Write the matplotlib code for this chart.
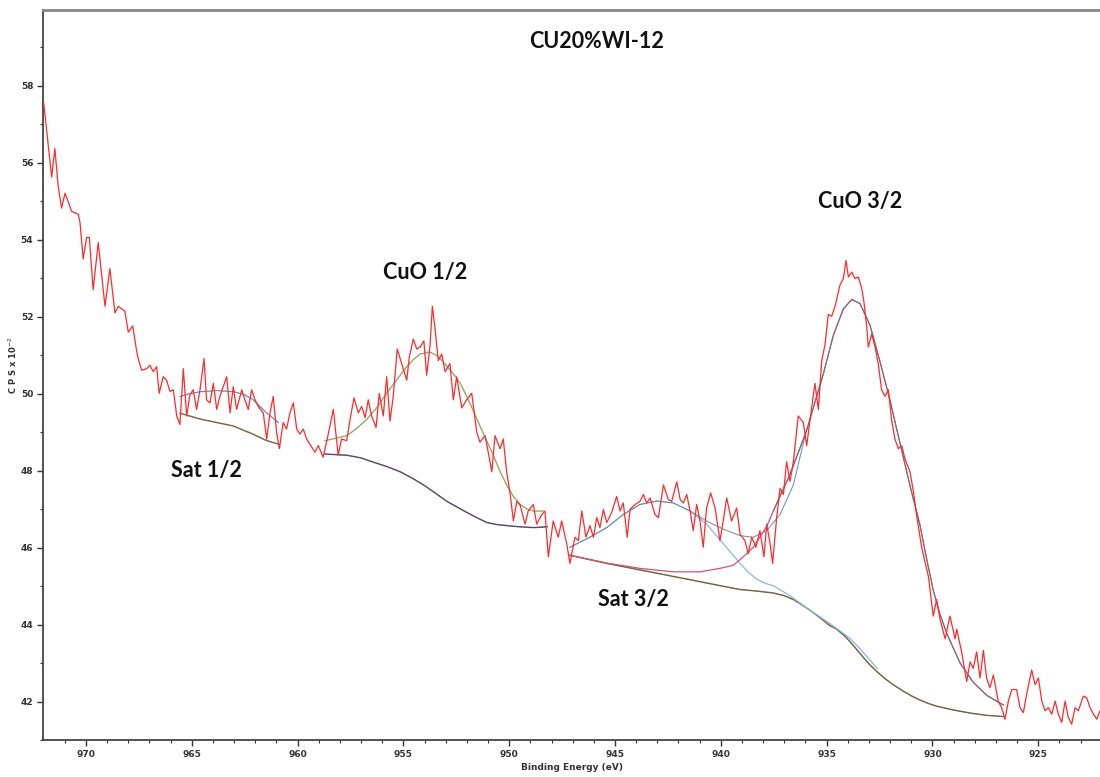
import numpy as np
import matplotlib
matplotlib.use("Agg")
from matplotlib import pyplot as plt

# raw Cu 2p spectrum (binding energy in eV, counts in CPS x 10^-2)
be_raw = [972.0, 971.62, 971.47, 971.31, 971.15, 970.99, 970.84, 970.68, 970.36, 970.28,
          970.13, 969.97, 969.84, 969.66, 969.42, 969.10, 968.87, 968.63, 968.47, 968.16,
          968.00, 967.79, 967.60, 967.53, 967.37, 967.13, 966.98, 966.82, 966.66, 966.54,
          966.35, 966.19, 966.03, 965.87, 965.71, 965.56, 965.40, 965.24, 965.09, 964.93,
          964.77, 964.61, 964.42, 964.30, 964.14, 963.98, 963.82, 963.67, 963.35, 963.19,
          963.04, 962.88, 962.64, 962.49, 962.33, 962.17, 962.01, 961.86, 961.62, 961.46,
          961.30, 961.15, 960.99, 960.86, 960.68, 960.52, 960.36, 960.20, 960.04, 959.89,
          959.73, 959.57, 959.33, 959.18, 959.02, 958.79, 958.55, 958.31, 958.08, 957.92,
          957.68, 957.52, 957.33, 957.13, 956.97, 956.81, 956.66, 956.50, 956.29, 956.14,
          955.95, 955.79, 955.63, 955.48, 955.29, 955.08, 954.84, 954.72, 954.53, 954.37,
          954.21, 954.03, 953.90, 953.74, 953.63, 953.51, 953.35, 953.19, 953.03, 952.80,
          952.64, 952.48, 952.24, 952.01, 951.77, 951.53, 951.38, 951.14, 950.99, 950.82,
          950.67, 950.43, 950.28, 950.12, 949.96, 949.80, 949.64, 949.49, 949.25, 949.10,
          948.86, 948.70, 948.46, 948.31, 948.15, 947.92, 947.68, 947.52, 947.28, 947.13,
          946.89, 946.73, 946.57, 946.37, 946.18, 946.02, 945.86, 945.71, 945.55, 945.39,
          945.16, 944.92, 944.76, 944.61, 944.42, 944.29, 944.05, 943.82, 943.66, 943.50,
          943.34, 943.11, 942.95, 942.71, 942.48, 942.32, 942.08, 941.92, 941.77, 941.61,
          941.45, 941.30, 941.14, 940.98, 940.83, 940.67, 940.48, 940.27, 940.04, 939.91,
          939.72, 939.49, 939.25, 939.09, 938.86, 938.70, 938.54, 938.34, 938.15, 937.96,
          937.83, 937.67, 937.55, 937.36, 937.20, 937.04, 936.89, 936.73, 936.57, 936.34,
          936.10, 935.94, 935.78, 935.55, 935.39, 935.23, 935.07, 934.92, 934.76, 934.60,
          934.37, 934.21, 934.08, 933.97, 933.81, 933.66, 933.50, 933.34, 933.23, 933.10,
          933.03, 932.87, 932.71, 932.56, 932.40, 932.24, 932.08, 931.93, 931.77, 931.61,
          931.45, 931.30, 931.06, 930.90, 930.75, 930.51, 930.19, 929.96, 929.80, 929.64,
          929.40, 929.17, 928.93, 928.85, 928.62, 928.38, 928.22, 928.07, 927.91, 927.75,
          927.59, 927.44, 927.28, 927.12, 926.89, 926.73, 926.57, 926.41, 926.25, 926.02,
          925.86, 925.70, 925.55, 925.31, 925.15, 924.99, 924.83, 924.68, 924.52, 924.36,
          924.20, 924.05, 923.89, 923.73, 923.58, 923.42, 923.26, 923.10, 922.87, 922.71,
          922.55, 922.39, 922.23, 922.08]
cps_raw = [57.57, 55.63, 56.37, 55.38, 54.82, 55.21, 54.99, 54.74, 54.66, 54.44,
           53.50, 54.06, 54.06, 52.70, 53.93, 52.27, 53.25, 52.10, 52.27, 52.14,
           51.60, 51.76, 51.09, 50.91, 50.61, 50.65, 50.74, 50.57, 50.70, 50.01,
           50.44, 50.35, 50.06, 50.10, 49.42, 49.20, 50.65, 49.42, 49.97, 50.10,
           49.59, 50.10, 50.91, 49.84, 49.76, 50.27, 49.59, 49.93, 50.44, 49.50,
           50.18, 49.59, 50.10, 49.84, 49.59, 50.10, 49.84, 49.67, 49.50, 48.82,
           49.50, 49.93, 48.99, 48.57, 49.25, 49.08, 49.50, 49.76, 49.08, 48.95,
           49.08, 48.82, 48.61, 48.48, 48.65, 48.35, 48.95, 49.59, 48.40, 48.82,
           48.78, 49.33, 49.89, 49.50, 49.67, 49.38, 49.84, 49.42, 49.12, 50.01,
           49.42, 50.44, 49.29, 49.93, 51.16, 50.78, 50.35, 50.95, 51.42, 51.16,
           51.21, 51.37, 50.48, 51.25, 52.27, 51.72, 50.86, 51.03, 50.57, 50.78,
           49.84, 50.44, 49.63, 49.84, 50.01, 48.99, 48.74, 48.91, 48.48, 47.97,
           48.91, 48.57, 48.82, 47.97, 47.42, 46.69, 47.20, 47.12, 46.61, 46.95,
           47.12, 46.61, 46.86, 46.95, 45.76, 46.69, 46.27, 46.69, 46.10, 45.59,
           46.27, 46.18, 46.95, 46.27, 46.57, 46.27, 46.78, 46.52, 46.99, 46.65,
           46.91, 47.33, 46.95, 47.16, 46.27, 46.99, 47.12, 47.20, 47.38, 47.16,
           47.29, 46.86, 46.78, 47.63, 47.25, 47.20, 47.71, 47.25, 47.16, 47.38,
           46.95, 46.44, 47.12, 46.69, 46.01, 47.03, 47.42, 47.03, 46.18, 46.61,
           47.29, 46.69, 47.03, 46.35, 46.18, 45.84, 46.27, 46.01, 46.44, 45.76,
           46.61, 46.10, 45.59, 46.78, 47.54, 47.38, 48.23, 47.72, 48.23, 49.42,
           49.25, 48.65, 49.33, 50.27, 49.59, 50.86, 51.29, 52.06, 52.01, 52.27,
           52.82, 52.99, 53.46, 53.03, 53.16, 52.99, 53.03, 52.74, 52.36, 51.72,
           51.21, 51.55, 51.21, 50.78, 50.10, 49.93, 50.10, 49.33, 48.82, 48.57,
           48.65, 48.31, 47.97, 47.46, 46.86, 46.01, 45.25, 44.22, 44.65, 44.14,
           43.63, 44.22, 43.63, 43.88, 43.29, 42.52, 43.03, 42.86, 43.29, 42.61,
           43.33, 42.61, 42.36, 42.69, 42.01, 41.84, 41.54, 42.01, 42.31, 42.31,
           41.84, 41.71, 42.18, 42.82, 42.44, 42.61, 42.01, 41.76, 41.84, 41.67,
           42.01, 41.67, 41.46, 42.01, 41.59, 41.41, 41.84, 41.76, 42.14, 42.10,
           41.84, 41.67, 41.54, 41.76]

# Shirley background under the Sat 1/2 region
bg_sat12_x = [965.55, 964.6, 963.04, 962.2, 961.46, 960.91]
bg_sat12_y = [49.49, 49.34, 49.16, 48.97, 48.78, 48.69]
# Sat 1/2 component
sat12_x = [965.55, 965.1, 964.6, 963.8, 963.0, 962.5, 962.1, 961.46, 960.91]
sat12_y = [49.93, 50.00, 50.05, 50.08, 50.05, 49.97, 49.84, 49.50, 49.25]

# background under CuO 1/2
bg_12_x = [958.7, 957.67, 957.0, 956.42, 955.8, 955.15, 954.6, 954.05, 953.5, 952.94,
           952.45, 951.99, 951.5, 951.05, 950.6, 950.1, 949.5, 948.84, 948.2]
bg_12_y = [48.43, 48.40, 48.33, 48.22, 48.11, 47.97, 47.81, 47.63, 47.42, 47.20,
           47.05, 46.91, 46.77, 46.65, 46.60, 46.57, 46.54, 46.52, 46.54]
# CuO 1/2 component
cuo12_x = [958.7, 958.2, 957.67, 957.2, 956.73, 956.25, 955.79, 955.3, 954.84, 954.5,
           954.21, 953.74, 953.4, 953.11, 952.64, 952.3, 952.01, 951.7, 951.38, 951.05,
           950.75, 950.45, 950.12, 949.8, 949.49, 949.15, 948.86, 948.4]
cuo12_y = [48.78, 48.84, 48.91, 49.10, 49.33, 49.64, 50.01, 50.37, 50.70, 50.90,
           51.03, 51.08, 50.98, 50.82, 50.52, 50.26, 49.93, 49.56, 49.16, 48.76,
           48.40, 48.00, 47.63, 47.33, 47.12, 47.00, 46.95, 46.95]

# background under Sat 3/2 and CuO 3/2
bg_32_x = [947.13, 945.4, 943.82, 942.24, 940.67, 939.09, 938.3, 937.52, 937.0, 936.57,
           936.1, 935.63, 935.2, 934.84, 934.52, 934.1, 933.74, 933.35, 932.95, 932.55,
           932.16, 931.75, 931.38, 931.0, 930.59, 930.2, 929.8, 929.01, 928.22, 927.43, 926.65]
bg_32_y = [45.80, 45.59, 45.42, 45.25, 45.08, 44.91, 44.87, 44.82, 44.75, 44.65,
           44.49, 44.31, 44.13, 43.97, 43.88, 43.68, 43.46, 43.20, 42.95, 42.74,
           42.56, 42.40, 42.27, 42.15, 42.04, 41.95, 41.88, 41.78, 41.70, 41.64, 41.61]
# Sat 3/2 component
sat32_x = [947.13, 946.18, 945.39, 944.61, 943.82, 943.03, 942.24, 941.45, 940.67,
           939.88, 939.09, 938.7, 938.3, 937.9, 937.52, 936.73, 935.94, 935.15, 934.37,
           933.9, 933.5, 933.05, 932.6]
sat32_y = [46.01, 46.27, 46.52, 46.86, 47.12, 47.21, 47.16, 46.95, 46.61,
           46.10, 45.59, 45.36, 45.18, 45.07, 45.01, 44.75, 44.43, 44.14, 43.84,
           43.64, 43.42, 43.14, 42.85]
# CuO 3/2 component
cuo32_x = [947.13, 945.4, 943.82, 942.24, 940.98, 940.04, 939.41, 938.94, 938.46, 937.83,
           937.52, 936.73, 935.94, 935.55, 935.16, 934.68, 934.21, 933.81, 933.42, 932.95,
           932.48, 932.0, 931.53, 931.06, 930.59, 930.27, 929.96, 929.65, 929.33, 928.7,
           928.07, 927.43, 926.65]
cuo32_y = [45.80, 45.60, 45.46, 45.37, 45.37, 45.46, 45.54, 45.76, 46.01, 46.55,
           46.95, 47.90, 49.05, 49.78, 50.50, 51.52, 52.20, 52.45, 52.34, 51.78,
           50.84, 49.82, 48.71, 47.61, 46.59, 45.70, 44.89, 44.28, 43.78, 43.01,
           42.50, 42.16, 41.91]
# envelope in the Sat 3/2 / CuO 3/2 overlap
env32_x = [947.13, 946.18, 945.39, 944.61, 943.82, 943.03, 942.24, 941.45, 940.67,
           939.88, 939.09, 938.46, 937.83, 937.2, 936.57, 935.94]
env32_y = [46.01, 46.27, 46.52, 46.86, 47.12, 47.21, 47.16, 46.95, 46.69,
           46.48, 46.31, 46.27, 46.44, 46.86, 47.63, 49.08]

fig = plt.figure(figsize=(11, 7.77), dpi=100)
ax = fig.add_axes([43 / 1100, 37 / 777, 1057 / 1100, 730 / 777])

ax.plot(be_raw, cps_raw, color="#ff2a2a", lw=0.9, zorder=5)

# fit lines: coloured under-stroke with a thinner dark line on top
ax.plot(bg_sat12_x, bg_sat12_y, color="#9a8a3a", lw=1.1)
ax.plot(bg_sat12_x, bg_sat12_y, color="#6a5a78", lw=0.5)
ax.plot(sat12_x, sat12_y, color="#9cc0dc", lw=1.0)
ax.plot(sat12_x, sat12_y, color="#8a6a8a", lw=0.5)

ax.plot(bg_12_x, bg_12_y, color="#8a7aa0", lw=1.1)
ax.plot(bg_12_x, bg_12_y, color="#4a4050", lw=0.6)
ax.plot(cuo12_x, cuo12_y, color="#a8c890", lw=1.1)
ax.plot(cuo12_x, cuo12_y, color="#9a9a60", lw=0.5)

ax.plot(bg_32_x, bg_32_y, color="#a0903a", lw=1.1)
ax.plot(bg_32_x, bg_32_y, color="#5a5a66", lw=0.6)
ax.plot(sat32_x, sat32_y, color="#88b8e0", lw=0.9)
ax.plot(cuo32_x, cuo32_y, color="#d8507a", lw=0.9)
ax.plot(env32_x, env32_y, color="#6a8aa8", lw=0.7)
ax.plot(cuo32_x[10:], cuo32_y[10:], color="#707070", lw=0.7)

ax.set_xlim(972.03, 922.08)
ax.set_ylim(41.38, 59.97)
ax.set_xticks(np.arange(925, 971, 5))
ax.set_xticks(np.arange(923, 972, 1), minor=True)
ax.set_yticks(np.arange(42, 59, 2))
ax.set_yticks(np.arange(41, 60, 2), minor=True)
ax.tick_params(which="both", direction="out", labelsize=6.5, labelcolor="#333333",
               color="#333333")
ax.tick_params(which="major", length=4, width=1.0, pad=3)
ax.tick_params(which="minor", length=2.5, width=0.8)
for lab in ax.get_xticklabels() + ax.get_yticklabels():
    lab.set_fontweight("bold")

ax.spines["right"].set_visible(False)
for side in ["left", "bottom"]:
    ax.spines[side].set_color("#444444")
    ax.spines[side].set_linewidth(1.3)
ax.spines["top"].set_color("#888888")
ax.spines["top"].set_linewidth(2.0)

fig.text(572 / 1100, 1 - 768 / 777, "Binding Energy (eV)", ha="center", va="center",
         fontsize=6.5, fontweight="bold", color="#333333")
fig.text(13 / 1100, 1 - 365 / 777, "C P S x 10$^{-2}$", rotation=90, ha="center",
         va="center", fontsize=6, fontweight="bold", color="#333333")

lbl = dict(fontsize=15.5, fontweight="bold", family="Lato", ha="center", va="center",
           color="#111111")
fig.text(597 / 1100, 1 - 42 / 777, "CU20%WI-12", **lbl)
ax.text(933.42, 54.99, "CuO 3/2", **lbl)
ax.text(953.98, 53.16, "CuO 1/2", **lbl)
ax.text(964.33, 48.0, "Sat 1/2", **lbl)
ax.text(944.15, 44.65, "Sat 3/2", **lbl)

fig.savefig("out.png", dpi=100)
